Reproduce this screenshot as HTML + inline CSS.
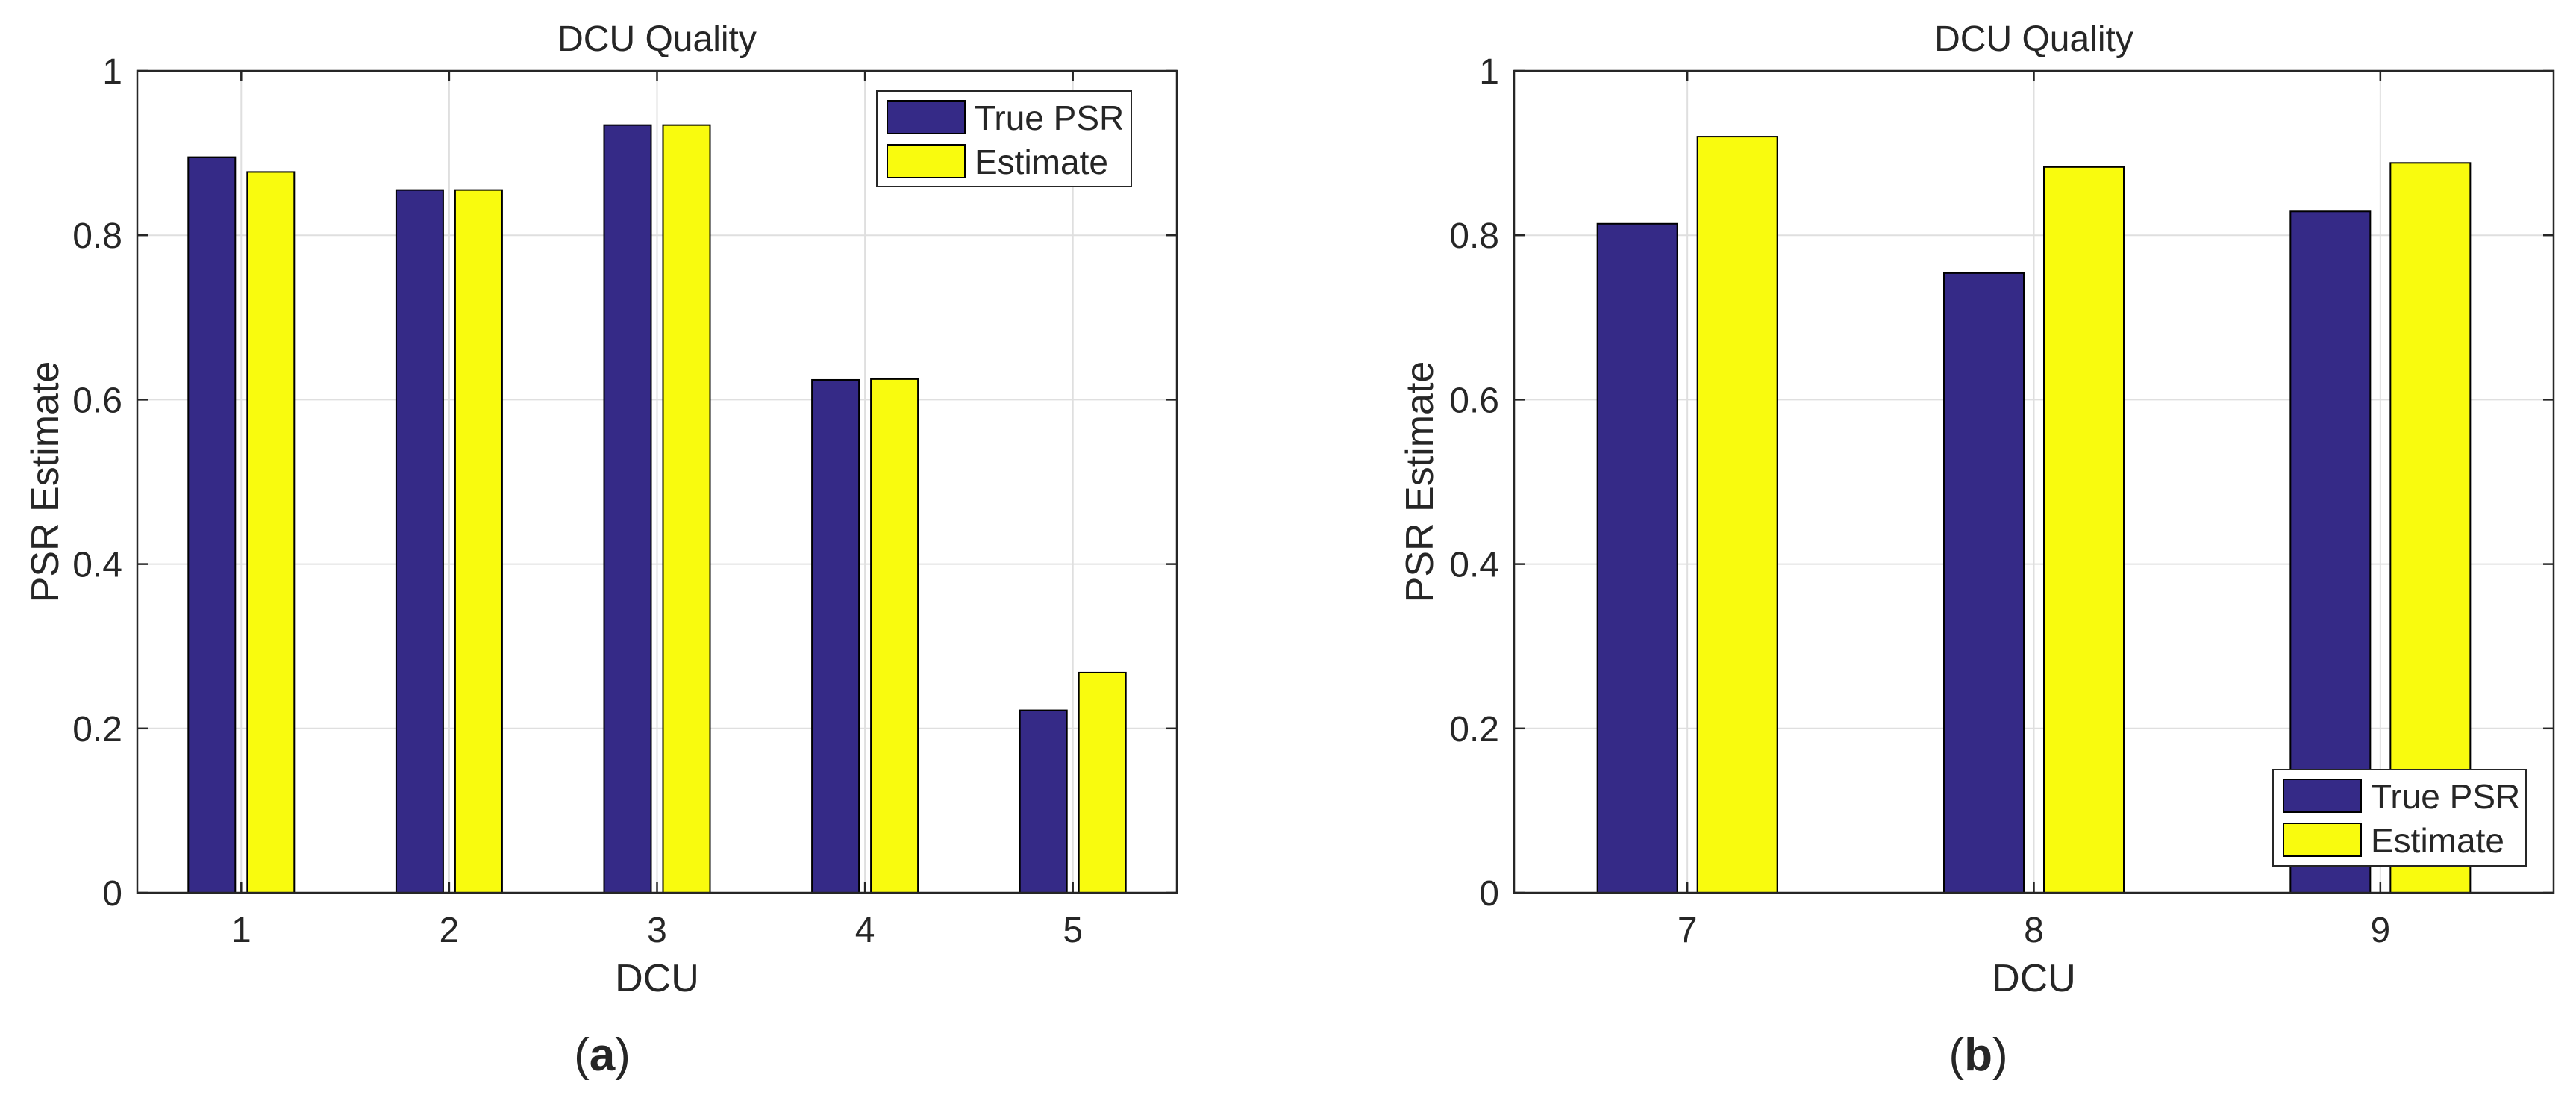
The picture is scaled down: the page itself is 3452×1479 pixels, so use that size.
<!DOCTYPE html>
<html><head><meta charset="utf-8"><style>
html,body{margin:0;padding:0;background:#fff;}
svg{display:block;}
text{font-family:"Liberation Sans",sans-serif;fill:#262626;}
</style></head><body>
<svg id="fig" width="3452" height="1479" viewBox="0 0 3452 1479" xmlns="http://www.w3.org/2000/svg"></svg>
<script>
const catsA = [1, 2, 3, 4, 5];
const trueA = [0.895, 0.855, 0.934, 0.624, 0.222];
const estA = [0.877, 0.855, 0.934, 0.625, 0.268];
const catsB = [7, 8, 9];
const trueB = [0.814, 0.754, 0.829];
const estB = [0.920, 0.883, 0.888];
const yTicks = [0, 0.2, 0.4, 0.6, 0.8, 1];
const yTickLabels = ['0', '0.2', '0.4', '0.6', '0.8', '1'];
const seriesNames = ['True PSR', 'Estimate'];

const NS = 'http://www.w3.org/2000/svg';
const svg = document.getElementById('fig');
function mk(tag, attrs, parent) {
  const e = document.createElementNS(NS, tag);
  for (const k in attrs) e.setAttribute(k, attrs[k]);
  (parent || svg).appendChild(e);
  return e;
}
const BLUE = '#352a87', YEL = '#f9fb0e';

function panel(cfg) {
  const g = mk('g', {});
  
  
  const L = cfg.left, R = cfg.right, T = 95, B = 1196;
  const xmin = cfg.cats[0] - 0.5, xmax = cfg.cats[cfg.cats.length - 1] + 0.5;
  const X = v => L + (v - xmin) / (xmax - xmin) * (R - L);
  const Y = v => B - v * (B - T);
  yTicks.forEach(t => {
    if (t > 0 && t < 1) {
      const l = mk('line', {x1: L, x2: R, y1: Y(t), y2: Y(t), stroke: '#dfdfdf', 'stroke-width': 2}, g);
      
      
    }
  });
  cfg.cats.forEach(c => {
    const l = mk('line', {x1: X(c), x2: X(c), y1: T, y2: B, stroke: '#dfdfdf', 'stroke-width': 2}, g);
    
    
  });
  cfg.cats.forEach((c, i) => {
    const cx = X(c);
    const b1 = mk('rect', {x: cx - cfg.off - cfg.bw, y: Y(cfg.s1[i]), width: cfg.bw, height: B - Y(cfg.s1[i]), fill: BLUE, stroke: '#000', 'stroke-width': 2}, g);
    
    
    const b2 = mk('rect', {x: cx + cfg.off, y: Y(cfg.s2[i]), width: cfg.bw, height: B - Y(cfg.s2[i]), fill: YEL, stroke: '#000', 'stroke-width': 2}, g);
    
    
  });
  const box = mk('rect', {x: L, y: T, width: R - L, height: B - T, fill: 'none', stroke: '#262626', 'stroke-width': 2.5}, g);
  
  
  yTicks.forEach((t, i) => {
    mk('line', {x1: L, x2: L + 14, y1: Y(t), y2: Y(t), stroke: '#262626', 'stroke-width': 2.5}, g);
    mk('line', {x1: R, x2: R - 14, y1: Y(t), y2: Y(t), stroke: '#262626', 'stroke-width': 2.5}, g);
    const tx = mk('text', {x: L - 20, y: Y(t) + 17, 'text-anchor': 'end', 'font-size': 48}, g);
    tx.textContent = yTickLabels[i];
    
    
  });
  cfg.cats.forEach(c => {
    mk('line', {x1: X(c), x2: X(c), y1: B, y2: B - 14, stroke: '#262626', 'stroke-width': 2.5}, g);
    mk('line', {x1: X(c), x2: X(c), y1: T, y2: T + 14, stroke: '#262626', 'stroke-width': 2.5}, g);
    const tx = mk('text', {x: X(c), y: 1262, 'text-anchor': 'middle', 'font-size': 48}, g);
    tx.textContent = String(c);
    
    
  });
  const ti = mk('text', {x: (L + R) / 2, y: 68, 'text-anchor': 'middle', 'font-size': 48, fill: '#000'}, g);
  ti.textContent = 'DCU Quality';
  
  
  const xl = mk('text', {x: (L + R) / 2, y: 1328, 'text-anchor': 'middle', 'font-size': 52}, g);
  xl.textContent = 'DCU';
  
  
  const yl = mk('text', {x: 0, y: 0, 'text-anchor': 'middle', 'font-size': 52, transform: 'translate(' + cfg.ylx + ',' + ((T + B) / 2) + ') rotate(-90)'}, g);
  yl.textContent = 'PSR Estimate';
  
  
  const lg = mk('g', {}, g);
  
  
  const lb = cfg.leg;
  mk('rect', {x: lb.x, y: lb.y, width: lb.w, height: lb.h, fill: '#fff', stroke: '#262626', 'stroke-width': 2}, lg);
  [BLUE, YEL].forEach((col, i) => {
    const py = lb.y + 13 + i * 59;
    const p = mk('rect', {x: lb.x + 14, y: py, width: 104, height: 44, fill: col, stroke: '#000', 'stroke-width': 2}, lg);
    
    
    const t = mk('text', {x: lb.x + 131, y: py + 39, 'font-size': 46, fill: '#000'}, lg);
    t.textContent = seriesNames[i];
    
    
  });
  const cap = mk('text', {x: cfg.capx, y: 1434, 'text-anchor': 'middle', 'font-size': 62, 'font-family': '"Liberation Serif", serif', fill: '#000'}, g);
  cap.innerHTML = '(<tspan font-weight="bold">' + cfg.cap + '</tspan>)';
  
  
}

panel({name: 'panel-a', left: 184, right: 1577, cats: catsA, s1: trueA, s2: estA, bw: 63, off: 8,
  ylx: 78, leg: {x: 1175, y: 122, w: 341, h: 128}, capx: 807, cap: 'a'});
panel({name: 'panel-b', left: 2029, right: 3422, cats: catsB, s1: trueB, s2: estB, bw: 107, off: 13.5,
  ylx: 1920, leg: {x: 3046, y: 1031, w: 339, h: 129}, capx: 2651, cap: 'b'});
</script>
</body></html>
